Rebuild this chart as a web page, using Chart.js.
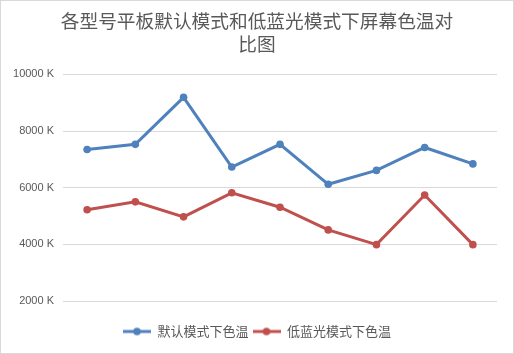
<!DOCTYPE html>
<html><head><meta charset="utf-8">
<script src="https://cdn.jsdelivr.net/npm/chart.js@4/dist/chart.umd.min.js"></script>
<style>
html,body{margin:0;padding:0;background:#fff;}
#wrap{width:514px;height:354px;box-sizing:border-box;border:1px solid #d9d9d9;background:#fff;}
</style></head><body>
<div id="wrap"><canvas id="c" width="512" height="352"></canvas></div>
<script>
const titleLines = ['各型号平板默认模式和低蓝光模式下屏幕色温对', '比图'];
const categories = ['型号1','型号2','型号3','型号4','型号5','型号6','型号7','型号8','型号9'];
const seriesNames = ['默认模式下色温', '低蓝光模式下色温'];
const defaultTemp = [7350, 7530, 9190, 6730, 7530, 6120, 6610, 7420, 6840];
const lowBlueTemp = [5220, 5500, 4970, 5820, 5310, 4510, 3990, 5740, 3990];
const yTicks = [2000, 4000, 6000, 8000, 10000];
const colors = ['#4F81BD', '#C0504D'];

function legendIcon(color){
  const cv = document.createElement('canvas');
  cv.width = 28; cv.height = 10;
  const g = cv.getContext('2d');
  g.strokeStyle = color; g.lineWidth = 3;
  g.beginPath(); g.moveTo(0,5); g.lineTo(28,5); g.stroke();
  g.fillStyle = color;
  g.beginPath(); g.arc(14,5,3.8,0,Math.PI*2); g.fill();
  return cv;
}
const icons = colors.map(legendIcon);

new Chart(document.getElementById('c'), {
  type: 'line',
  data: {
    labels: categories,
    datasets: [
      {label: seriesNames[0], data: defaultTemp, borderColor: colors[0], backgroundColor: colors[0],
       borderWidth: 3, pointRadius: 3.8, pointBorderWidth: 0, tension: 0},
      {label: seriesNames[1], data: lowBlueTemp, borderColor: colors[1], backgroundColor: colors[1],
       borderWidth: 3, pointRadius: 3.8, pointBorderWidth: 0, tension: 0}
    ]
  },
  options: {
    responsive: false,
    animation: false,
    layout: {padding: {left: 0, right: 0, top: 0, bottom: 5}},
    plugins: {
      title: {display: true, text: titleLines, color: '#595959',
        font: {family: '"Noto Sans CJK SC"', size: 18.7, weight: 'normal', lineHeight: 1.24},
        padding: {top: 8, bottom: 19}},
      legend: {position: 'bottom',
        labels: {usePointStyle: true, pointStyleWidth: 28, padding: 4, color: '#595959',
          font: {family: '"Noto Sans CJK SC"', size: 13},
          generateLabels: function(chart){
            return chart.data.datasets.map((d,i)=>({text: d.label, pointStyle: icons[i], fillStyle: colors[i],
              strokeStyle: colors[i], lineWidth: 0, hidden: false, datasetIndex: i, fontColor: '#595959'}));
          }}},
      tooltip: {enabled: false}
    },
    scales: {
      x: {offset: true, grid: {display: false}, border: {display: false}, ticks: {display: false},
        afterFit: s => { s.height = 20; }},
      y: {min: 2000, max: 10000,
        afterBuildTicks: s => { s.ticks = yTicks.map(v => ({value: v})); },
        afterFit: s => { s.width = 62; },
        grid: {color: '#d9d9d9', lineWidth: 1, drawTicks: false},
        border: {display: false},
        ticks: {padding: 9, color: '#595959', font: {family: '"Liberation Sans"', size: 11},
          callback: v => v + ' K'}},
      yRight: {position: 'right', display: true, grid: {display: false}, border: {display: false},
        ticks: {display: false}, afterFit: s => { s.width = 16; }}
    }
  }
});
</script>
</body></html>
